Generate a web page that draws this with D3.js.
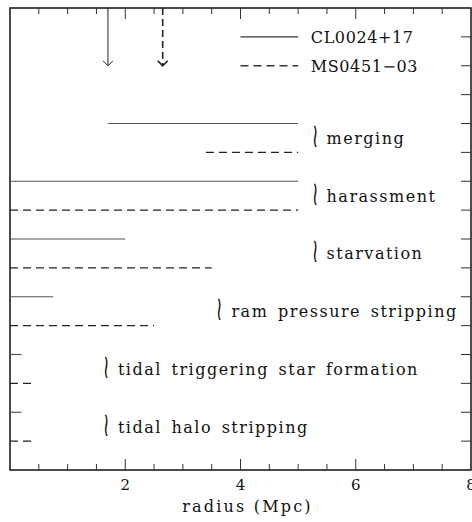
<!DOCTYPE html>
<html>
<head>
<meta charset="utf-8">
<script src="https://cdn.jsdelivr.net/npm/d3@7"></script>
<style>
  body { margin: 0; background: #fff; }
  text { font-family: "DejaVu Serif", serif; fill: #111; }
</style>
</head>
<body>
<div id="chart"></div>
<script>
// processes, from top to bottom
var processes = ["merging", "harassment", "starvation", "ram pressure stripping",
  "tidal triggering star formation", "tidal halo stripping"];

// radial range (Mpc) where each process works
var clStart = [1.7, 0, 0, 0, 0, 0];
var clEnd   = [5, 5, 2, 0.75, 0.2, 0.2];
var msStart = [3.4, 0, 0, 0, 0, 0];
var msEnd   = [5, 5, 3.5, 2.5, 0.4, 0.4];

// label position (Mpc) for each process
var labelX = [5.25, 5.25, 5.25, 3.6, 1.63, 1.63];

// virial radius arrows
var clArrow = 1.7;
var msArrow = 2.65;

var clusters = ["CL0024+17", "MS0451\u221203"];
var xTicks = [2, 4, 6, 8];

var W = 472, H = 522;
var margin = {left: 10, top: 8, right: 1, bottom: 52};

var svg = d3.select("#chart").append("svg").attr("width", W).attr("height", H);

var x = d3.scaleLinear().domain([0, 8]).range([margin.left, W - margin.right]);
var y = d3.scaleLinear().domain([0, 16]).range([H - margin.bottom, margin.top]);

var dash = "8,5";

// frame
svg.append("rect")
  .attr("x", x(0)).attr("y", y(16))
  .attr("width", x(8) - x(0)).attr("height", y(0) - y(16))
  .style("fill", "none").style("stroke", "#111").style("stroke-width", 1.5);

// x ticks on bottom and top
var minor = d3.range(0.5, 8, 0.5);
minor.forEach(function(t){
  var len = (t % 2 === 0) ? 11 : 6;
  svg.append("line").attr("x1", x(t)).attr("x2", x(t))
    .attr("y1", y(0)).attr("y2", y(0) - len)
    .style("stroke", "#333").style("stroke-width", 1);
  svg.append("line").attr("x1", x(t)).attr("x2", x(t))
    .attr("y1", y(16)).attr("y2", y(16) + len)
    .style("stroke", "#333").style("stroke-width", 1);
});

// y ticks on the right
d3.range(1, 16).forEach(function(t){
  svg.append("line").attr("x1", x(8)).attr("x2", x(8) - 10)
    .attr("y1", y(t)).attr("y2", y(t))
    .style("stroke", "#333").style("stroke-width", 1);
});

// x tick labels
xTicks.forEach(function(t){
  svg.append("text").attr("x", x(t)).attr("y", y(0) + 20)
    .attr("text-anchor", "middle").style("font-size", "15px").text(t);
});

svg.append("text").attr("x", x(4) + 7).attr("y", y(0) + 42)
  .attr("text-anchor", "middle").style("font-size", "16px").style("letter-spacing", "2.2px")
  .text("radius (Mpc)");

// process ranges
processes.forEach(function(p, i){
  var ySolid = y(12 - 2 * i);
  var yDash = y(11 - 2 * i);

  svg.append("line").attr("x1", x(clStart[i])).attr("x2", x(clEnd[i]))
    .attr("y1", ySolid).attr("y2", ySolid)
    .style("stroke", "#555").style("stroke-width", 1.2);

  svg.append("line").attr("x1", x(msStart[i])).attr("x2", x(msEnd[i]))
    .attr("y1", yDash).attr("y2", yDash)
    .style("stroke", "#222").style("stroke-width", 1.4)
    .style("stroke-dasharray", dash);

  var ly = y(11.5 - 2 * i);
  var lx = x(labelX[i]);
  // wavy brace, stretched tall
  svg.append("text")
    .attr("transform", "translate(" + (lx - 1) + "," + (ly + 9) + ") scale(0.8,1.6)")
    .style("font-size", "21px").text("\u2240");
  svg.append("text").attr("x", lx + 14).attr("y", ly + 6)
    .style("font-size", "16px").style("letter-spacing", "1.5px").style("word-spacing", "3px")
    .text(p);
});

// legend
[0, 1].forEach(function(k){
  var ly = y(15 - k);
  var l = svg.append("line").attr("x1", x(4)).attr("x2", x(5))
    .attr("y1", ly).attr("y2", ly)
    .style("stroke", "#333").style("stroke-width", k ? 1.4 : 1.2);
  if (k) l.style("stroke-dasharray", dash);
  svg.append("text").attr("x", x(5.22)).attr("y", ly + 6)
    .style("font-size", "16px").style("letter-spacing", "0.6px")
    .text(clusters[k]);
});

// arrows
function arrow(r, dashed){
  var ax = x(r), tip = y(14);
  var l = svg.append("line").attr("x1", ax).attr("x2", ax)
    .attr("y1", y(16)).attr("y2", tip)
    .style("stroke", "#222").style("stroke-width", dashed ? 1.6 : 1);
  if (dashed) l.style("stroke-dasharray", "7,4");
  svg.append("path")
    .attr("d", "M" + (ax - 5) + "," + (tip - 5) + "L" + ax + "," + tip + "L" + (ax + 5) + "," + (tip - 5))
    .style("fill", "none").style("stroke", "#222").style("stroke-width", dashed ? 1.6 : 1);
}
arrow(clArrow, false);
arrow(msArrow, true);
</script>
</body>
</html>
